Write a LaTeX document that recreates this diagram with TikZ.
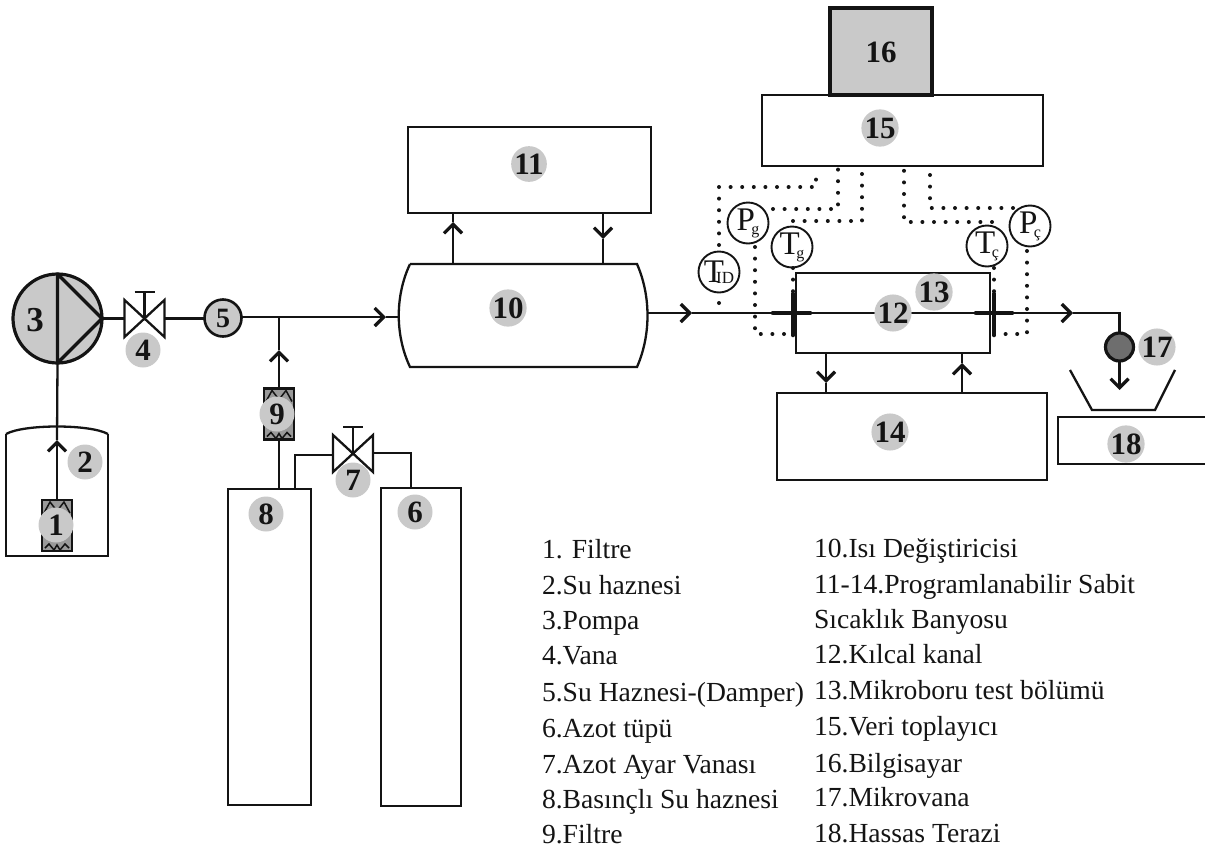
\documentclass[tikz,border=0pt]{standalone}
\usepackage{fontspec}
\setmainfont{Liberation Serif}
\usetikzlibrary{arrows.meta,calc}
\definecolor{ink}{HTML}{141414}
\definecolor{badgegray}{HTML}{C9C9C9}
\definecolor{filtergray}{HTML}{9A9A9A}
\definecolor{darkvalve}{HTML}{6E6E6E}
\tikzset{
  every node/.style={inner sep=0pt,outer sep=0pt,text=ink},
  pipe/.style={draw=ink,line width=2.3pt},
  flow/.style={pipe,-{Straight Barb[length=9pt,width=18pt,line width=3.2pt]}},
  boxn/.style={draw=ink,line width=2.3pt,fill=white},
  badge/.style={circle,fill=badgegray,minimum size=35pt,font=\fontsize{31}{31}\selectfont\bfseries},
  sensor/.style={circle,draw=ink,line width=1.9pt,fill=white,minimum size=41pt,font=\fontsize{33}{33}\selectfont},
  sig/.style={draw=ink,line width=4pt,line cap=round,dash pattern=on 0pt off 11.6pt},
  thickbar/.style={draw=ink,line width=4.6pt,line cap=round},
  legend/.style={anchor=base west,font=\fontsize{27.6}{27.6}\selectfont},
  valveshape/.style={minimum width=40pt,minimum height=37pt},
  filtershape/.style={draw=ink,line width=2.3pt,fill=filtergray,minimum width=30pt,minimum height=51pt},
}
\newcommand{\sens}[2]{#1\kern-3.5pt\raisebox{-4pt}{\fontsize{16}{16}\selectfont #2}}
\newcommand{\valvetie}[1]{%
  \draw[pipe,fill=white,line join=miter] (#1.north west)--(#1.south east)--(#1.north east)--(#1.south west)--cycle;}
\newcommand{\carets}[1]{%
  \draw[draw=ink,line width=1.5pt] ($(#1.north west)+(2,13)$)--($(#1.north)+(-7,2)$)--($(#1.north)+(0,11)$)--($(#1.north)+(7,2)$)--($(#1.north east)+(-2,13)$);
  \draw[draw=ink,line width=1.5pt] ($(#1.south west)+(3,-3)$)--($(#1.south)+(-8,-7)$)--($(#1.south)+(-3,-1)$)--($(#1.south)+(0,-6)$)--($(#1.south)+(3,-1)$)--($(#1.south)+(8,-7)$)--($(#1.south east)+(-3,-3)$);}
\begin{document}
\begin{tikzpicture}[x=1pt,y=-1pt]
\useasboundingbox (0,0) rectangle (1205,849);
% boxes
\node[boxn,minimum width=243pt,minimum height=86pt] (b11) at (529.5,170) {};
\node[boxn,minimum width=194pt,minimum height=80pt] (b13) at (893,313) {};
\node[boxn,minimum width=270pt,minimum height=87pt] (b14) at (912,436.5) {};
\node[boxn,minimum width=281pt,minimum height=71pt] (b15) at (902.5,130.5) {};
\node[draw=ink,line width=3.2pt,fill=badgegray,minimum width=102pt,minimum height=87pt] (b16) at (881,51.5) {};
\node[boxn,minimum width=83pt,minimum height=316pt] (t8) at (269.5,647) {};
\node[boxn,minimum width=80pt,minimum height=318pt] (t6) at (421,647) {};
% water tank
\node[minimum width=102pt,minimum height=134pt] (t2) at (57,489) {};
\draw[pipe] (t2.north west) ++(0,12) coordinate (t2a) -- (t2.south west) -- (t2.south east) -- ++(0,-122) coordinate (t2b);
\draw[pipe] (t2a) .. controls (24,424) and (90,424) .. (t2b);
% vessel 10
\node[minimum width=248pt,minimum height=103pt] (v10) at (523,315.5) {};
\coordinate (v10nw) at ($(v10.north west)+(11,0)$);
\coordinate (v10sw) at ($(v10.south west)+(11,0)$);
\coordinate (v10ne) at ($(v10.north east)+(-10,0)$);
\coordinate (v10se) at ($(v10.south east)+(-10,0)$);
\draw[pipe] (v10nw) -- (v10ne) .. controls (651,296) and (651,335) .. (v10se) -- (v10sw) .. controls (395,335) and (395,296) .. (v10nw);
% scale 18 and pan
\node[minimum width=147pt,minimum height=47pt] (b18) at (1131.5,440.5) {};
\draw[pipe] (b18.north east) -- (b18.north west) -- (b18.south west) -- (b18.south east);
\coordinate (pan1) at (1070,370);
\coordinate (pan2) at (1092,410);
\coordinate (pan3) at (1155,410);
\coordinate (pan4) at (1175,370);
\draw[pipe] (pan1) -- (pan2) -- (pan3) -- (pan4);
% pump
\node[circle,draw=ink,line width=3.2pt,fill=badgegray,minimum size=89pt] (pump) at (57.5,318.5) {};
\draw[draw=ink,line width=3.2pt,line join=round] (pump.north) -- (pump.south) -- (pump.east) -- cycle;
% valves
\node[valveshape] (v4) at (144.5,318.5) {};
\node[valveshape] (v7) at (353,453.5) {};
\coordinate (h4) at (144.5,292);
\coordinate (h7) at (353,427);
\draw[pipe] (pump.east) -- (v4.west);
\node[circle,draw=ink,line width=2.6pt,fill=badgegray,minimum size=37pt] (n5) at (223,318) {};
\draw[pipe] (v4.east) -- (v4.east -| n5.west);
\coordinate (a5) at (386,317);
\draw[flow] (n5.east |- a5) -- (a5);
\draw[pipe] (a5) -- (a5 -| v10.west);
% pipe down to tank 8 with filter 9
\coordinate (j9) at (279,317);
\coordinate (a9) at (279,350);
\coordinate (t8a) at (279,489);
\node[filtershape] (f9) at (279,414) {};
\draw[pipe] (t8a) -- (f9.south);
\draw[flow] (f9.north) -- (a9);
\draw[pipe] (a9) -- (j9);
% filter 1
\node[filtershape] (f1) at (57,525.5) {};
\coordinate (a1) at (57,440);
\draw[flow] (f1.north) -- (a1);
\draw[pipe] (a1) -- (pump.south);
\carets{f1}
\carets{f9}
% valve 7 pipes
\coordinate (t8b) at (295,489);
\coordinate (e8) at (295,455);
\coordinate (t6a) at (411,488);
\coordinate (e6) at (411,453);
\draw[pipe] (t8b) -- (e8) -- (e8 -| v7.west);
\draw[pipe] (t6a) -- (e6) -- (e6 -| v7.east);
\valvetie{v4}
\valvetie{v7}
\draw[pipe] (v4.center) -- (h4);
\draw[pipe] ($(h4)+(-10,0)$) -- ($(h4)+(10,0)$);
\draw[pipe] (v7.center) -- (h7);
\draw[pipe] ($(h7)+(-10,0)$) -- ($(h7)+(10,0)$);
% outlet pipes
\coordinate (a10) at (692,313);
\coordinate (a13) at (1073,313);
\coordinate (c17) at (1119.5,313);
\node[circle,draw=ink,line width=3.2pt,fill=darkvalve,minimum size=28pt] (n17) at (1119.5,347) {};
\coordinate (a17) at (1119.5,390);
\draw[flow] (v10.east |- a10) -- (a10);
\draw[pipe] (a10) -- (b13.west);
\draw[pipe] (b13.west) -- (b13.east);
\draw[flow] (b13.east) -- (a13);
\draw[pipe] (a13) -- (c17) -- (n17.north);
\draw[flow] (n17.south) -- (a17);
% bath arrows
\coordinate (u1) at (453,264);
\coordinate (u1t) at (453,222);
\coordinate (u1b) at (453,213);
\draw[flow] (u1) -- (u1t);
\draw[pipe] (u1t) -- (u1b);
\coordinate (d1) at (603,213);
\coordinate (d1t) at (603,239);
\coordinate (d1b) at (603,264);
\draw[flow] (d1) -- (d1t);
\draw[pipe] (d1t) -- (d1b);
\coordinate (d2) at (826,353);
\coordinate (d2t) at (826,383);
\coordinate (d2b) at (826,393);
\draw[flow] (d2) -- (d2t);
\draw[pipe] (d2t) -- (d2b);
\coordinate (u2) at (962,393);
\coordinate (u2t) at (962,363);
\coordinate (u2b) at (962,353);
\draw[flow] (u2) -- (u2t);
\draw[pipe] (u2t) -- (u2b);
% fittings
\coordinate (fg) at (793,313);
\coordinate (fc) at (994,313);
\draw[thickbar] ($(fg)+(-20,0)$) -- ($(fg)+(17,0)$);
\draw[thickbar] ($(fg)+(0,-19)$) -- ($(fg)+(0,22)$);
\draw[thickbar] ($(fc)+(-18,0)$) -- ($(fc)+(18,0)$);
\draw[thickbar] ($(fc)+(0,-19)$) -- ($(fc)+(0,22)$);
% sensors
\node[sensor] (sTid) at (719,272) {T\kern-8pt\raisebox{-1pt}{\fontsize{17}{17}\selectfont ID}};
\node[sensor] (sPg) at (748,223) {\sens{P}{g}};
\node[sensor] (sTg) at (792,247) {\sens{T}{g}};
\node[sensor] (sTc) at (987,246) {\sens{T}{ç}};
\node[sensor] (sPc) at (1030,226) {\sens{P}{ç}};
% signal lines
\coordinate (q1) at (816,171);
\coordinate (q2) at (838,168);
\coordinate (q3) at (862,168);
\coordinate (q4) at (904,168);
\coordinate (q5) at (930,174);
\coordinate (tidb) at (719,314);
\coordinate (pgc) at (755,334);
\coordinate (pce) at (1027,334);
\draw[sig] (719,245) -- (719,187) -- (816,187) -- (q1);
\draw[sig] (719,303) -- (tidb);
\draw[sig] (773,209) -- (838,209) -- (q2);
\draw[sig] (793,221) -- (862,221) -- (q3);
\draw[sig] (992,222) -- (904,222) -- (q4);
\draw[sig] (1013,208) -- (930,208) -- (q5);
\draw[sig] (755,247) -- (pgc) -- (786,334);
\draw[sig] (793,268) -- (793,292);
\draw[sig] (994,268) -- (994,292);
\draw[sig] (1027,251) -- (pce) -- (1004,334);
% badges
\node[font=\fontsize{35}{35}\selectfont\bfseries] (l3) at (35,320) {3};
\node[font=\fontsize{28}{28}\selectfont\bfseries] (l5) at (223,318) {5};
\node[badge] (n1) at (56,525) {1};
\node[badge] (n2) at (85,462) {2};
\node[badge] (n4) at (143,350) {4};
\node[badge] (n6) at (415,512) {6};
\node[badge] (n7) at (353,480) {7};
\node[badge] (n8) at (266,514) {8};
\node[badge] (n9) at (277,414) {9};
\node[badge] (n10) at (508,308) {10};
\node[badge] (n11) at (529,164) {11};
\node[badge] (n12) at (893,313) {12};
\node[badge] (n13) at (934,292) {13};
\node[badge] (n14) at (890,432) {14};
\node[badge] (n15) at (880,128) {15};
\node[font=\fontsize{31}{31}\selectfont\bfseries] (n16) at (881,52) {16};
\node[badge] (n17b) at (1157,347) {17};
\node[badge] (n18) at (1126,444) {18};
% legend
\node[legend] (la1) at (542,558) {1. Filtre};
\node[legend] (la2) at (542,594) {2.Su haznesi};
\node[legend] (la3) at (542,629) {3.Pompa};
\node[legend] (la4) at (542,664) {4.Vana};
\node[legend] (la5) at (542,701) {5.Su Haznesi-(Damper)};
\node[legend] (la6) at (542,737) {6.Azot tüpü};
\node[legend] (la7) at (542,773) {7.Azot Ayar Vanası};
\node[legend] (la8) at (542,808) {8.Basınçlı Su haznesi};
\node[legend] (la9) at (542,843) {9.Filtre};
\node[legend] (lb1) at (814,557) {10.Isı Değiştiricisi};
\node[legend] (lb2) at (814,593) {11-14.Programlanabilir Sabit};
\node[legend] (lb3) at (814,628) {Sıcaklık Banyosu};
\node[legend] (lb4) at (814,663) {12.Kılcal kanal};
\node[legend] (lb5) at (814,699) {13.Mikroboru test bölümü};
\node[legend] (lb6) at (814,735) {15.Veri toplayıcı};
\node[legend] (lb7) at (814,772) {16.Bilgisayar};
\node[legend] (lb8) at (814,806) {17.Mikrovana};
\node[legend] (lb9) at (814,842) {18.Hassas Terazi};
\end{tikzpicture}
\end{document}
